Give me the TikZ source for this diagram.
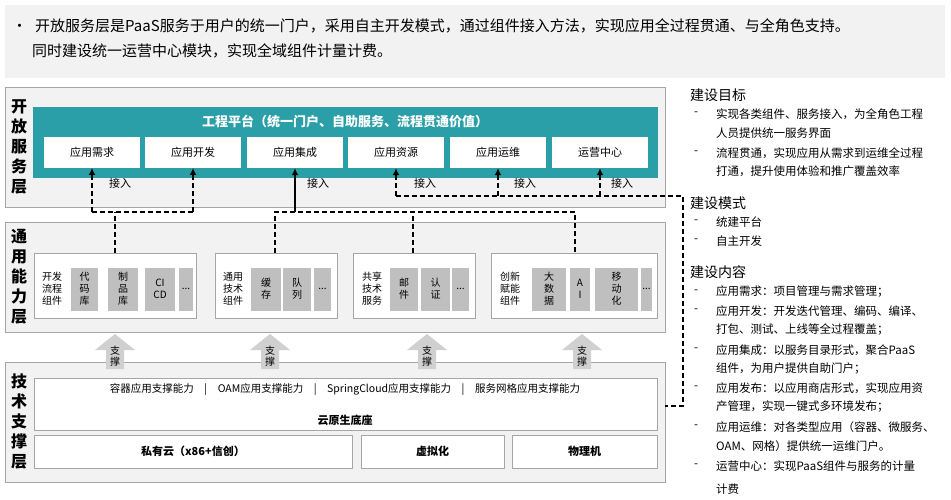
\documentclass[tikz,border=0pt]{standalone}
\usepackage{fontspec}
\setmainfont{Noto Sans CJK SC}
\usetikzlibrary{arrows.meta}
\definecolor{teal1}{HTML}{2A9FA8}
\definecolor{lay}{HTML}{F2F2F2}
\definecolor{bord}{HTML}{A6A6A6}
\definecolor{sub}{HTML}{BFBFBF}
\definecolor{suparr}{HTML}{D0D0D0}
\begin{document}
\begin{tikzpicture}[x=1pt,y=-1pt,
  layer/.style={draw=bord,fill=lay,line width=0.8pt},
  wbox/.style={draw=bord,fill=white,line width=0.6pt},
  vlab/.style={font=\fontsize{16}{20}\selectfont\bfseries,align=center,inner sep=0pt},
  app/.style={fill=white,minimum width=96pt,minimum height=31pt,inner sep=0pt,font=\fontsize{11}{13}\selectfont},
  sb/.style={fill=sub,inner sep=0pt,align=center,font=\fontsize{10}{12}\selectfont,minimum height=43pt},
  cl/.style={align=center,inner sep=0pt,font=\fontsize{10}{12}\selectfont},
  dl/.style={line width=2pt,dash pattern=on 5pt off 3pt},
  tip/.style={-{Latex[length=7pt,width=7pt]}},
  lbl/.style={font=\fontsize{11}{13}\selectfont,inner sep=0pt},
  rt/.style={anchor=west,inner sep=0pt,font=\fontsize{11.5}{13}\selectfont},
  rh/.style={anchor=west,inner sep=0pt,font=\fontsize{14}{16}\selectfont}]
\useasboundingbox (0,0) rectangle (951,500);
\fill[white] (0,0) rectangle (951,500);
% banner
\fill[lay] (5,5) rectangle (945,78);
\node[anchor=west,inner sep=0pt,font=\fontsize{15}{18}\selectfont] (b1) at (12,26) {•\hspace{8pt}开放服务层是PaaS服务于用户的统一门户，采用自主开发模式，通过组件接入方法，实现应用全过程贯通、与全角色支持。};
\node[anchor=west,inner sep=0pt,font=\fontsize{15}{18}\selectfont] (b2) at (32,51) {同时建设统一运营中心模块，实现全域组件计量计费。};
% layers
\draw[layer] (5,87) rectangle (665,207);
\draw[layer] (5,222) rectangle (665,332);
\draw[layer] (5,362) rectangle (665,482);
\node[vlab] (L1) at (19,147) {开\\放\\服\\务\\层};
\node[vlab] (L2) at (19,277) {通\\用\\能\\力\\层};
\node[vlab] (L3) at (19,422) {技\\术\\支\\撑\\层};
% teal
\fill[teal1] (33,107) rectangle (658,178);
\node[text=white,font=\fontsize{13}{15}\selectfont\bfseries] (tt) at (345,121) {工程平台（统一门户、自助服务、流程贯通价值）};
\node[app] (a1) at (92,152.5) {应用需求};
\node[app] (a2) at (193,152.5) {应用开发};
\node[app] (a3) at (295,152.5) {应用集成};
\node[app] (a4) at (396,152.5) {应用资源};
\node[app] (a5) at (498,152.5) {应用运维};
\node[app] (a6) at (600,152.5) {运营中心};
% component boxes
\draw[wbox] (34,253) rectangle (196,318);
\draw[wbox] (215,253) rectangle (337,318);
\draw[wbox] (353,253) rectangle (475,318);
\draw[wbox] (491,253) rectangle (657,318);
\coordinate (c1) at (115,253);
\coordinate (c2) at (275,253);
\coordinate (c3) at (413,253);
\coordinate (c4) at (575,253);
\node[cl] at (52,289) {开发\\流程\\组件};
\node[sb,minimum width=27pt] at (84.5,289) {代\\码\\库};
\node[sb,minimum width=30pt] at (123,289) {制\\品\\库};
\node[sb,minimum width=30pt] at (160,289) {CI\\CD};
\node[sb,minimum width=14pt] at (186,289) {...};
\node[cl] at (233,289) {通用\\技术\\组件};
\node[sb,minimum width=30pt] at (266,289) {缓\\存};
\node[sb,minimum width=28pt] at (297,289) {队\\列};
\node[sb,minimum width=17pt] at (322.5,289) {...};
\node[cl] at (372,289) {共享\\技术\\服务};
\node[sb,minimum width=28pt] at (404,289) {邮\\件};
\node[sb,minimum width=29pt] at (435.5,289) {认\\证};
\node[sb,minimum width=17pt] at (460.5,289) {...};
\node[cl] at (510,289) {创新\\赋能\\组件};
\node[sb,minimum width=34pt] at (549,289) {大\\数\\据};
\node[sb,minimum width=20pt] at (580,289) {A\\I};
\node[sb,minimum width=43pt] at (616.5,289) {移\\动\\化};
\node[sb,minimum width=11pt] at (646.5,289) {...};
% connectors
\draw[dl] (c1) -- (115,212);
\draw[dl,tip] (92,212) -- (92,168);
\draw[dl,tip] (193,212) -- (193,168);
\draw[dl] (92,212) -- (193,212);
\draw[dl] (c2) -- (275,212) -- (575,212) -- (c4);
\draw[dl] (c3) -- (413,212);
\draw[line width=2pt,tip] (295,212) -- (a3.south);
\draw[dl,tip] (396,196) -- (a4.south);
\draw[dl,tip] (498,196) -- (a5.south);
\draw[dl,tip] (600,196) -- (a6.south);
\draw[dl] (396,196) -- (683,196) -- (683,406) -- (665,406);
\node[lbl] at (120,183) {接入};
\node[lbl] at (318,183) {接入};
\node[lbl] at (425,183) {接入};
\node[lbl] at (525,183) {接入};
\node[lbl] at (622,183) {接入};
% support arrows
\foreach \x in {115,270,427,582}{
  \fill[suparr] (\x-9,369) -- (\x-9,350) -- (\x-20,350) -- (\x,334) -- (\x+20,350) -- (\x+9,350) -- (\x+9,369) -- cycle;
  \node[cl,font=\fontsize{10}{11}\selectfont] at (\x,356) {支\\撑};
}
% tech layer
\draw[wbox] (34,378) rectangle (657,430);
\node[font=\fontsize{10.5}{12}\selectfont] (t1) at (345,390) {容器应用支撑能力\quad |\quad OAM应用支撑能力\quad |\quad SpringCloud应用支撑能力\quad |\quad 服务网格应用支撑能力};
\node[font=\fontsize{11}{13}\selectfont\bfseries] (t2) at (345,420) {云原生底座};
\draw[wbox] (34,435) rectangle (352,468);
\draw[wbox] (361,435) rectangle (504,468);
\draw[wbox] (512,435) rectangle (657,468);
\node[font=\fontsize{11}{13}\selectfont\bfseries] at (193,451.5) {私有云（x86+信创）};
\node[font=\fontsize{11}{13}\selectfont\bfseries] at (432.5,451.5) {虚拟化};
\node[font=\fontsize{11}{13}\selectfont\bfseries] at (584.5,451.5) {物理机};
% right text
\node[rh] at (690,95) {建设目标};
\foreach \y/\d/\t in {114/-/实现各类组件、服务接入，为全角色工程,133//人员提供统一服务界面,153/-/流程贯通，实现应用从需求到运维全过程,171//打通，提升使用体验和推广覆盖效率,222/-/统建平台,241/-/自主开发,292/-/应用需求：项目管理与需求管理；,311/-/应用开发：开发迭代管理、编码、编译、,330//打包、测试、上线等全过程覆盖；,350/-/应用集成：以服务目录形式，聚合PaaS,369//组件，为用户提供自助门户；,388/-/应用发布：以应用商店形式，实现应用资,407//产管理，实现一键式多环境发布；,427/-/应用运维：对各类型应用（容器、微服务、,446//OAM、网格）提供统一运维门户。,466/-/运营中心：实现PaaS组件与服务的计量,489//计费}{
  \node[rt] at (694,\y) {\d};
  \node[rt] at (716,\y) {\t};
}
\node[rh] at (690,203) {建设模式};
\node[rh] at (690,272) {建设内容};
\end{tikzpicture}
\end{document}
